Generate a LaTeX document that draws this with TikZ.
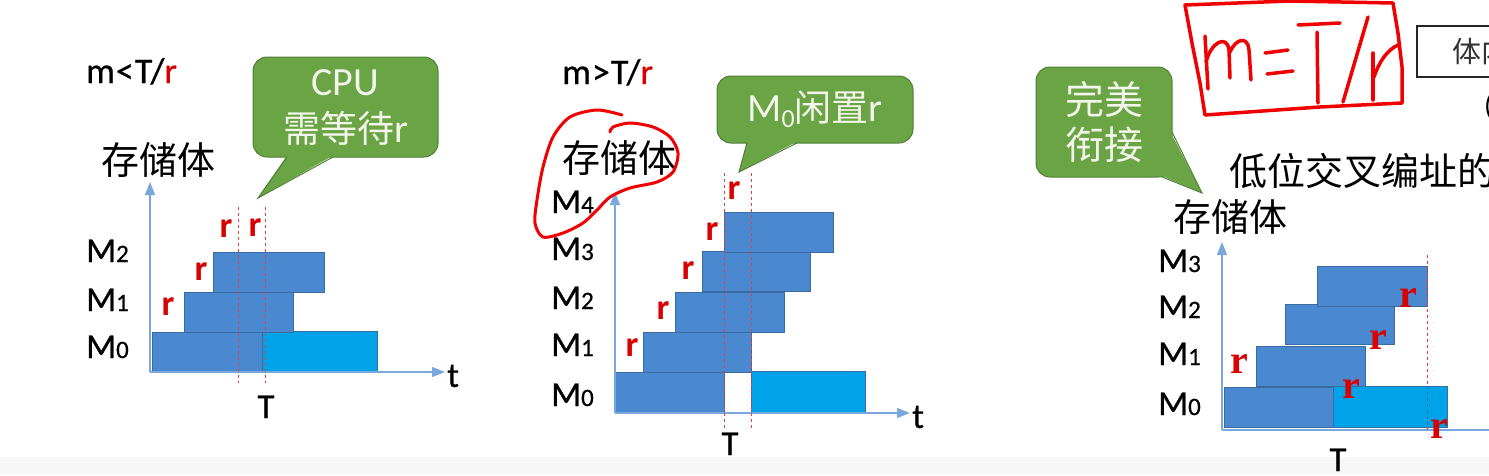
\documentclass[tikz,border=0pt]{standalone}
\usepackage{fontspec}
\setmainfont{Carlito}
\newfontfamily\cjk{Noto Sans CJK SC}
\newfontfamily\tnr{Liberation Serif}
\newfontface\lab{Carlito}[FakeBold=0.7]
\usetikzlibrary{positioning}
\usetikzlibrary{arrows.meta}

\definecolor{bankdark}{HTML}{4A89CF}
\definecolor{banklight}{HTML}{00A3E8}
\definecolor{bankedge}{HTML}{3A6CA3}
\definecolor{axisblue}{HTML}{7AA8DC}
\definecolor{tipgreen}{HTML}{6AA444}
\definecolor{tipedge}{HTML}{4E7F35}
\definecolor{tiptext}{HTML}{F2F6EA}
\definecolor{rred}{HTML}{D80000}
\definecolor{penred}{HTML}{F00000}

\tikzset{
  bank/.style={draw=bankedge, fill=bankdark, line width=1pt},
  busy/.style={draw=bankedge, fill=banklight, line width=1pt},
  axis/.style={draw=axisblue, line width=1.3pt, -{Triangle[length=13pt,width=10pt]}},
  cut/.style={draw=rred!75, line width=1pt, dash pattern=on 3pt off 3pt},
  lbl/.style={font=\lab\fontsize{35}{35}\selectfont, inner sep=0pt},
  cmp/.style={font=\lab\fontsize{36}{36}\selectfont, inner sep=0pt, anchor=base west},
  cjklbl/.style={font=\cjk\fontsize{38}{38}\selectfont, inner sep=0pt},
  rlbl/.style={text=rred, font=\bfseries\fontsize{36}{36}\selectfont, inner sep=0pt, anchor=base},
  rser/.style={text=rred, font=\tnr\bfseries\fontsize{40}{40}\selectfont, inner sep=0pt, anchor=base},
  tipbox/.style={fill=tipgreen, draw=tipedge, line width=1pt, rounded corners=14pt, text=tiptext, align=center, inner sep=0pt},
  pen/.style={draw=penred, line width=3.5pt, line cap=round, line join=round},
}
\newcommand\Mlbl[1]{M{\fontsize{25}{25}\selectfont #1}}

\begin{document}
\begin{tikzpicture}[x=1pt,y=-1pt]
\useasboundingbox (0,0) rectangle (1489,475);
\clip (0,0) rectangle (1489,475);
\fill[black!3] (0,457) rectangle (1489,475);

% m < T/r
\node[cmp] (cmp1) at (86,83) {m\hspace{1pt}<\hspace{1pt}T/{\color{rred}r}};
\node[cjklbl] (bank1) at (158.5,160) {存储体};
\coordinate (o1) at (150,372);
\coordinate (y1) at (150,182);
\coordinate (x1) at (445,372);
\draw[bank] (152,332) rectangle (262,372);
\draw[busy] (262,331) rectangle (377,372);
\draw[bank] (184,292) rectangle (293,332);
\draw[bank] (213,252) rectangle (324,292);
\draw[axis] (o1) -- (y1);
\draw[axis] (o1) -- (x1);
\node[lbl, right=2pt of x1, yshift=-4pt] (t1) {t};
\draw[cut] (238,207) -- (238,383);
\draw[cut] (265,207) -- (265,383);
\node[lbl, anchor=base west] (m12) at (86,262) {\Mlbl{2}};
\node[lbl, anchor=base west] (m11) at (86,311) {\Mlbl{1}};
\node[lbl, anchor=base west] (m10) at (86,358) {\Mlbl{0}};
\node[rlbl] (r11) at (226,237) {r};
\node[rlbl] (r12) at (255,236) {r};
\node[rlbl] (r13) at (201,280) {r};
\node[rlbl] (r14) at (168,315) {r};
\node[lbl, anchor=base] (T1) at (266,418) {T};
\node[tipbox, minimum width=185, minimum height=100, font=\fontsize{40}{47}\selectfont] (cpu) at (345.5,107) {CPU\\{\cjk\fontsize{37}{47}\selectfont 需等待}r};
\fill[tipgreen] (287,155.5) -- (258,198) -- (333,155.5) -- cycle;
\draw[tipedge, line width=1pt] (287,157) -- (258,198) -- (333,157);

% m > T/r
\node[cmp] (cmp2) at (562,84) {m\hspace{1pt}>\hspace{1pt}T/{\color{rred}r}};
\node[cjklbl] (bank2) at (619.5,157.5) {存储体};
\coordinate (o2) at (615,413);
\coordinate (y2) at (615,192);
\coordinate (x2) at (910,413);
\draw[bank] (614,372) rectangle (724,412);
\draw[busy] (751,371) rectangle (865,412);
\draw[bank] (643,332) rectangle (751,372);
\draw[bank] (675,292) rectangle (784,332);
\draw[bank] (702,251) rectangle (810,291);
\draw[bank] (724,212) rectangle (833,252);
\draw[axis] (o2) -- (y2);
\draw[axis] (o2) -- (x2);
\node[lbl, right=2pt of x2, yshift=-4pt] (t2) {t};
\draw[cut] (724,173) -- (724,430);
\draw[cut] (751,173) -- (751,430);
\node[lbl, anchor=base west] (m24) at (551,213) {\Mlbl{4}};
\node[lbl, anchor=base west] (m23) at (551,260) {\Mlbl{3}};
\node[lbl, anchor=base west] (m22) at (551,309) {\Mlbl{2}};
\node[lbl, anchor=base west] (m21) at (551,356) {\Mlbl{1}};
\node[lbl, anchor=base west] (m20) at (551,406) {\Mlbl{0}};
\node[rlbl] (r21) at (734,199) {r};
\node[rlbl] (r22) at (712,240) {r};
\node[rlbl] (r23) at (688,279) {r};
\node[rlbl] (r24) at (663,319) {r};
\node[rlbl] (r25) at (632,356) {r};
\node[lbl, anchor=base] (T2) at (730,455) {T};
\node[tipbox, minimum width=196, minimum height=67, font=\fontsize{40}{40}\selectfont] (idle) at (815,109.5) {M\raisebox{-6pt}{\fontsize{26}{26}\selectfont 0}{\cjk\fontsize{37}{37}\selectfont 闲置}r};
\fill[tipgreen] (747,141.5) -- (739,172) -- (797,141.5) -- cycle;
\draw[tipedge, line width=1pt] (747,143) -- (739,172) -- (797,143);
\draw[pen, line width=3pt] plot[smooth] coordinates {(622,115) (597,110) (570,117) (553,137) (543,167) (537,200) (535,223) (543,237) (563,233) (583,223) (597,210) (610,197) (630,188) (657,182) (673,172) (678,153) (670,137) (653,127) (630,123) (613,127) (610,132)};

% m = T/r
\node[cjklbl] (bank3) at (1230,216.5) {存储体};
\node[cjklbl, anchor=west] (title) at (1229,171) {低位交叉编址的};
\coordinate (o3) at (1222,430);
\coordinate (y3) at (1222,242);
\coordinate (x3) at (1500,430);
\draw[bank] (1224,387) rectangle (1333,427);
\draw[busy] (1333,386) rectangle (1447,427);
\draw[bank] (1256,346) rectangle (1365,386);
\draw[bank] (1285,304) rectangle (1394,344);
\draw[bank] (1317,266) rectangle (1427,306);
\draw[axis] (o3) -- (y3);
\draw[draw=axisblue, line width=1.3pt] (o3) -- (x3);
\draw[cut] (1427,255) -- (1427,386);
\draw[cut, draw=bankedge] (1427,386) -- (1427,427);
\draw[cut] (1427,427) -- (1427,432);
\node[lbl, anchor=base west] (m33) at (1158,272) {\Mlbl{3}};
\node[lbl, anchor=base west] (m32) at (1158,318) {\Mlbl{2}};
\node[lbl, anchor=base west] (m31) at (1158,365) {\Mlbl{1}};
\node[lbl, anchor=base west] (m30) at (1158,415) {\Mlbl{0}};
\node[rser] (r31) at (1239,373) {r};
\node[rser] (r32) at (1408,307) {r};
\node[rser] (r33) at (1378,349) {r};
\node[rser] (r34) at (1351,398) {r};
\node[rser] (r35) at (1439,438) {r};
\node[lbl, anchor=base] (T3) at (1338,471) {T};
\node[tipbox, minimum width=136, minimum height=110, font=\cjk\fontsize{39}{45}\selectfont] (join) at (1104,122) {完美\\衔接};
\fill[tipgreen] (1170,131) -- (1202,193) -- (1162,176) -- (1150,165) -- (1160,131) -- cycle;
\draw[tipedge, line width=1pt] (1172,132) -- (1202,193) -- (1162,177);

\draw[black!85, line width=1.3pt] (1417,26) rectangle (1510,77);
\node[font=\cjk\fontsize{29}{29}\selectfont, text=black!80, inner sep=0pt, anchor=west] (note) at (1452,52) {体内};
\node[font=\fontsize{29}{29}\selectfont, inner sep=0pt, anchor=west] (paren) at (1484,107) {(};

\draw[pen] (1185,5) -- (1290,1) -- (1393,3) -- (1398,33) -- (1402,67) -- (1402,103) -- (1320,107) -- (1205,115) -- (1200,83) -- (1192,43) -- cycle;
\draw[pen] (1205,36) -- (1208,89);
\draw[pen] (1206,62) .. controls (1211,42) and (1227,34) .. (1229,50) -- (1230,78);
\draw[pen] (1230,52) .. controls (1236,38) and (1248,36) .. (1249,50) -- (1251,80);
\draw[pen] (1265,53) -- (1288,50);
\draw[pen] (1267,74) -- (1293,71);
\draw[pen] (1298,25) -- (1340,23);
\draw[pen] (1317,32) -- (1318,103);
\draw[pen] (1368,17) -- (1343,102);
\draw[pen] (1373,53) -- (1373,100);
\draw[pen] (1374,77) .. controls (1379,62) and (1387,50) .. (1398,45);
\end{tikzpicture}
\end{document}
